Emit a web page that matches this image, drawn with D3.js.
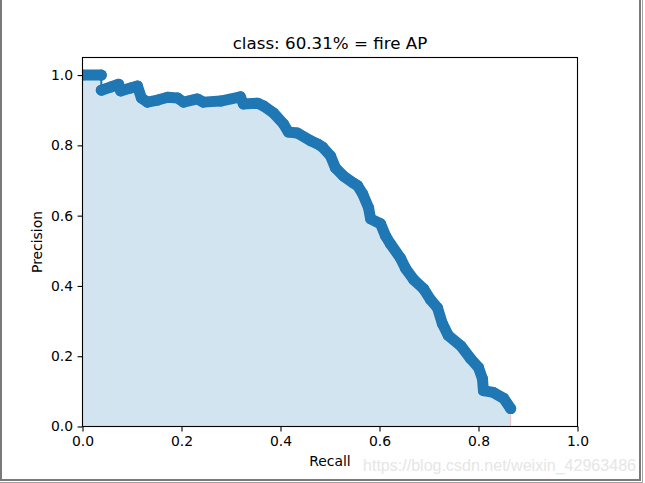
<!DOCTYPE html>
<html>
<head>
<meta charset="utf-8">
<script src="https://cdn.jsdelivr.net/npm/d3@7"></script>
<style>
  html, body { margin: 0; padding: 0; background: #fff; }
  svg { display: block; }
</style>
</head>
<body>
<svg id="chart" width="645" height="483"></svg>
<script>
// ---- data ----
const titleText = "class: 60.31% = fire AP";
const xLabel = "Recall";
const yLabel = "Precision";
const xTicks = [0, 0.2, 0.4, 0.6, 0.8, 1.0];
const yTicks = [0, 0.2, 0.4, 0.6, 0.8, 1.0];
const recall = [
  0.000, 0.038, 0.038, 0.057, 0.073, 0.077, 0.097, 0.111, 0.119, 0.131,
  0.152, 0.172, 0.192, 0.204, 0.232, 0.244, 0.279, 0.319, 0.325, 0.354,
  0.366, 0.386, 0.406, 0.416, 0.434, 0.461, 0.475, 0.485, 0.501, 0.511,
  0.527, 0.547, 0.556, 0.566, 0.578, 0.582, 0.602, 0.612, 0.622, 0.642,
  0.653, 0.669, 0.689, 0.703, 0.717, 0.727, 0.739, 0.764, 0.784, 0.800,
  0.808, 0.810, 0.830, 0.851, 0.865
];
const precision = [
  1.000, 1.000, 0.957, 0.966, 0.974, 0.955, 0.963, 0.969, 0.935, 0.923,
  0.929, 0.937, 0.935, 0.923, 0.932, 0.923, 0.926, 0.938, 0.918, 0.920,
  0.912, 0.892, 0.861, 0.838, 0.835, 0.813, 0.804, 0.795, 0.770, 0.736,
  0.713, 0.693, 0.685, 0.662, 0.622, 0.591, 0.577, 0.543, 0.520, 0.480,
  0.449, 0.418, 0.392, 0.361, 0.338, 0.293, 0.259, 0.230, 0.193, 0.168,
  0.136, 0.102, 0.097, 0.080, 0.051
];
const watermark = "https://blog.csdn.net/weixin_42963486";

// ---- layout ----
const svg = d3.select("#chart");
const L = 82.5, R = 577.5, T = 57.5, B = 426.5;
const x = d3.scaleLinear().domain([0, 1]).range([L, R]);
const y = d3.scaleLinear().domain([0, 1.05]).range([B, T]);
const blue = "#1f77b4";
const font = "DejaVu Sans, sans-serif";

const pts = recall.map((r, i) => ({ r, p: precision[i] }));

svg.append("defs").append("clipPath").attr("id", "clip")
  .append("rect").attr("x", L).attr("y", T).attr("width", R - L).attr("height", B - T);

const plot = svg.append("g").attr("clip-path", "url(#clip)");

// filled area under curve
plot.append("path")
  .datum(pts)
  .attr("d", d3.area().x(d => x(d.r)).y0(y(0)).y1(d => y(d.p)))
  .attr("fill", "rgb(210,228,240)")
  .attr("stroke", "rgba(255,0,0,0.2)")
  .attr("stroke-width", 1);

const line = d3.line().x(d => x(d.r)).y(d => y(d.p));
// thin connecting line
plot.append("path")
  .datum(pts)
  .attr("d", line)
  .attr("fill", "none")
  .attr("stroke", blue)
  .attr("stroke-width", 2);
// dense marker-chain appearance (broken at the first vertical jump)
[pts.slice(0, 2), pts.slice(2)].forEach(seg => {
  plot.append("path")
    .datum(seg)
    .attr("d", line)
    .attr("fill", "none")
    .attr("stroke", blue)
    .attr("stroke-width", 11)
    .attr("stroke-linejoin", "round")
    .attr("stroke-linecap", "round");
});
plot.selectAll("circle.m").data(pts).enter().append("circle")
  .attr("class", "m")
  .attr("cx", d => x(d.r)).attr("cy", d => y(d.p)).attr("r", 5.5)
  .attr("fill", blue);

// axes
const xAxis = d3.axisBottom(x).tickValues(xTicks).tickFormat(d3.format(".1f"))
  .tickSize(4.9).tickPadding(4.5);
const yAxis = d3.axisLeft(y).tickValues(yTicks).tickFormat(d3.format(".1f"))
  .tickSize(4.9).tickPadding(4.5);
const gx = svg.append("g").attr("transform", `translate(0,${B})`).call(xAxis);
const gy = svg.append("g").attr("transform", `translate(${L},0)`).call(yAxis);
[gx, gy].forEach(g => {
  g.select(".domain").remove();
  g.selectAll("line").attr("stroke", "#000").attr("stroke-width", 1.1);
  g.selectAll("text").attr("font-family", font).attr("font-size", 13.9).attr("fill", "#000");
});

// spines
svg.append("rect").attr("x", L).attr("y", T).attr("width", R - L).attr("height", B - T)
  .attr("fill", "none").attr("stroke", "#000").attr("stroke-width", 1.1);

// title & labels
svg.append("text").attr("x", (L + R) / 2).attr("y", 49)
  .attr("text-anchor", "middle").attr("font-family", font).attr("font-size", 16.7)
  .text(titleText);
svg.append("text").attr("x", (L + R) / 2).attr("y", 466)
  .attr("text-anchor", "middle").attr("font-family", font).attr("font-size", 13.9)
  .text(xLabel);
svg.append("text").attr("transform", `translate(42,${(T + B) / 2}) rotate(-90)`)
  .attr("text-anchor", "middle").attr("font-family", font).attr("font-size", 13.9)
  .text(yLabel);

// watermark
svg.append("text").attr("x", 636).attr("y", 471)
  .attr("text-anchor", "end").attr("font-family", "Liberation Sans, Arial, sans-serif")
  .attr("font-size", 16.2).attr("fill", "#e6e6e6")
  .attr("textLength", 273).attr("lengthAdjust", "spacingAndGlyphs")
  .text(watermark);

// window frame
svg.append("path").attr("d", "M1,0 V480 H640 V0")
  .attr("fill", "none").attr("stroke", "#7a7a7a").attr("stroke-width", 2);
svg.append("path").attr("d", "M642.5,0 V482.5 H0")
  .attr("fill", "none").attr("stroke", "#a0a0a0").attr("stroke-width", 1);
</script>
</body>
</html>
